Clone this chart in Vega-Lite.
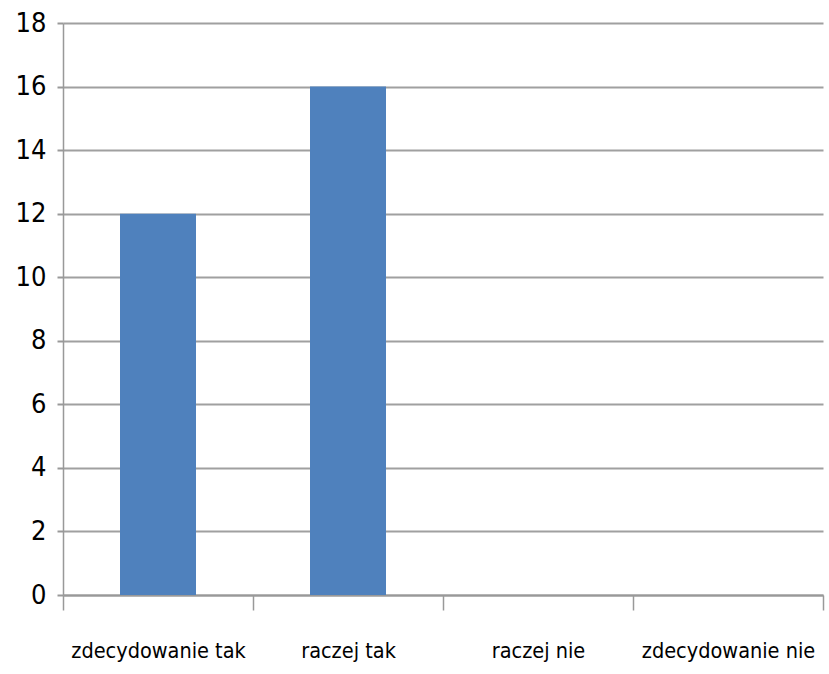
{
  "$schema": "https://vega.github.io/schema/vega-lite/v6.json",
  "autosize": "none",
  "padding": {"left": 63, "top": 23, "right": 6, "bottom": 79},
  "width": 760,
  "height": 572,
  "background": "white",
  "data": {"values": [
    {"kategoria": "zdecydowanie tak", "wartosc": 12},
    {"kategoria": "raczej tak", "wartosc": 16},
    {"kategoria": "raczej nie", "wartosc": 0},
    {"kategoria": "zdecydowanie nie", "wartosc": 0}
  ]},
  "mark": {"type": "bar", "color": "#4F81BD", "width": {"band": 0.4}},
  "encoding": {
    "x": {
      "field": "kategoria", "type": "nominal", "sort": null,
      "scale": {"paddingInner": 0, "paddingOuter": 0},
      "axis": {"title": null, "labelAngle": 0, "tickBand": "extent", "tickSize": 15, "tickColor": "#999999", "tickWidth": 1.5,
        "domainColor": "#999999", "domainWidth": 2, "labelFont": "DejaVu Sans Condensed", "labelFontSize": 21.5, "labelColor": "#000000", "labelPadding": 30, "grid": false}
    },
    "y": {
      "field": "wartosc", "type": "quantitative",
      "scale": {"domain": [0, 18], "nice": false},
      "axis": {"title": null, "values": [0, 2, 4, 6, 8, 10, 12, 14, 16, 18], "tickSize": 6, "tickColor": "#999999", "tickWidth": 2,
        "domainColor": "#999999", "domainWidth": 1.5, "gridColor": "#a0a0a0", "gridWidth": 2, "labelFont": "DejaVu Sans Condensed", "labelFontSize": 27, "labelColor": "#000000", "labelPadding": 11}
    }
  },
  "config": {"view": {"stroke": null}}
}
